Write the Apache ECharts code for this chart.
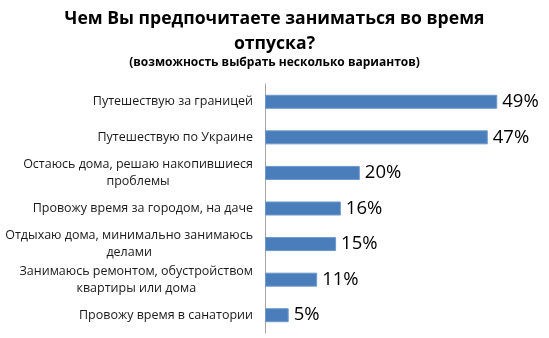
<!DOCTYPE html>
<html>
<head>
<meta charset="utf-8">
<script src="https://cdn.jsdelivr.net/npm/echarts@6/dist/echarts.min.js"></script>
<style>
  html, body { margin: 0; padding: 0; background: #fff; }
  #chart { width: 549px; height: 338px; }
</style>
</head>
<body>
<div id="chart"></div>
<script>
// Survey answers (multiple choice allowed), share of respondents in %
const categories = [
  'Путешествую за границей',
  'Путешествую по Украине',
  'Остаюсь дома, решаю накопившиеся\nпроблемы',
  'Провожу время за городом, на даче',
  'Отдыхаю дома, минимально занимаюсь\nделами',
  'Занимаюсь ремонтом, обустройством\nквартиры или дома',
  'Провожу время в санатории'
];
const shares = [49, 47, 20, 16, 15, 11, 5];

const FONT = '"Open Sans", "DejaVu Sans", sans-serif';

const chart = echarts.init(document.getElementById('chart'), null, { renderer: 'canvas' });

chart.setOption({
  animation: false,
  backgroundColor: '#ffffff',
  title: {
    text: 'Чем Вы предпочитаете заниматься во время\nотпуска?',
    subtext: '(возможность выбрать несколько вариантов)',
    left: 'center',
    top: 1,
    itemGap: 0,
    textStyle: {
      fontFamily: FONT,
      fontSize: 17.6,
      fontWeight: 'bold',
      color: '#000',
      lineHeight: 25
    },
    subtextStyle: {
      fontFamily: FONT,
      fontSize: 12,
      fontWeight: 'bold',
      color: '#000',
      lineHeight: 14
    }
  },
  grid: {
    left: 265,
    top: 84,
    width: 237,
    height: 249,
    containLabel: false
  },
  xAxis: {
    type: 'value',
    min: 0,
    max: 50,
    show: false
  },
  yAxis: {
    type: 'category',
    data: categories,
    inverse: true,
    axisLine: { show: true, lineStyle: { color: '#a6a6a6', width: 1 } },
    axisTick: { show: false },
    axisLabel: {
      margin: 12,
      fontFamily: FONT,
      fontSize: 12.5,
      color: '#1a1a1a',
      formatter: function (v) {
        return v.split('\n').map(function (l) { return '{c|' + l + '}'; }).join('\n');
      },
      rich: {
        c: {
          fontFamily: FONT,
          fontSize: 12.5,
          color: '#1a1a1a',
          lineHeight: 17,
          align: 'center'
        }
      }
    }
  },
  series: [{
    type: 'bar',
    data: shares,
    barWidth: 14,
    itemStyle: {
      color: '#4a7ebb',
      borderColor: '#6d97cc',
      borderWidth: 1
    },
    label: {
      show: true,
      position: 'right',
      distance: 5,
      formatter: '{c}%',
      fontFamily: FONT,
      fontSize: 18.5,
      color: '#000'
    }
  }]
});
</script>
</body>
</html>
